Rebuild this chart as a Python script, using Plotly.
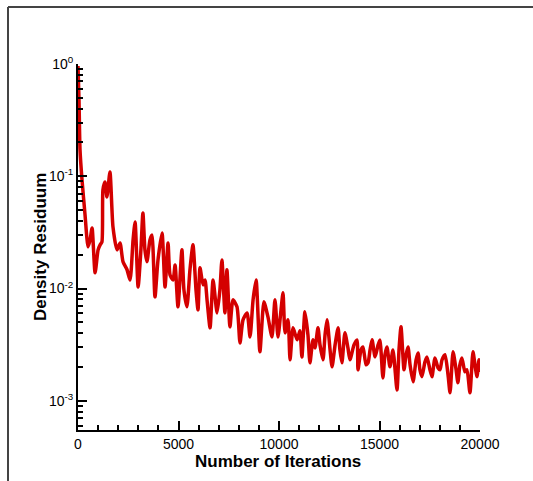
import plotly.graph_objects as go

iterations = [0, 50, 100, 200, 350, 500, 600, 700, 850, 1000, 1100, 1190, 1240, 1340, 1440, 1590, 1740, 1940, 2090, 2240, 2440, 2590, 2740, 2840, 2990, 3130, 3230, 3330, 3430, 3580, 3680, 3830, 3980, 4180, 4330, 4480, 4580, 4730, 4830, 4975, 5170, 5270, 5420, 5570, 5720, 5870, 5970, 6070, 6220, 6320, 6420, 6570, 6720, 6920, 7060, 7160, 7310, 7410, 7560, 7710, 7910, 8060, 8210, 8410, 8560, 8710, 8860, 9050, 9250, 9450, 9650, 9800, 9950, 10100, 10200, 10300, 10450, 10550, 10700, 10900, 11040, 11140, 11290, 11440, 11540, 11690, 11790, 11940, 12040, 12190, 12290, 12390, 12540, 12640, 12790, 12940, 13030, 13130, 13280, 13430, 13530, 13730, 13880, 13930, 14080, 14180, 14330, 14430, 14530, 14630, 14780, 14930, 15020, 15170, 15270, 15370, 15520, 15670, 15870, 15970, 16070, 16220, 16320, 16420, 16520, 16670, 16820, 16920, 17010, 17110, 17260, 17360, 17510, 17610, 17760, 17910, 18010, 18110, 18260, 18410, 18510, 18660, 18810, 18900, 19000, 19100, 19250, 19350, 19500, 19650, 19750, 19850, 19950, 20000]

residuum = [0.96, 0.478, 0.172, 0.0927, 0.0453, 0.0235, 0.0271, 0.0347, 0.0138, 0.0221, 0.0245, 0.0260, 0.0755, 0.0890, 0.0655, 0.109, 0.0354, 0.0221, 0.0255, 0.0173, 0.0147, 0.0119, 0.0271, 0.0392, 0.0103, 0.0221, 0.0472, 0.0221, 0.0173, 0.0271, 0.0300, 0.00843, 0.0180, 0.0313, 0.0103, 0.0255, 0.0132, 0.0119, 0.0162, 0.00687, 0.0221, 0.00973, 0.00687, 0.0147, 0.0245, 0.00973, 0.00646, 0.0153, 0.0108, 0.0119, 0.00793, 0.00447, 0.0119, 0.00607, 0.00973, 0.0180, 0.00607, 0.0147, 0.00456, 0.00793, 0.00687, 0.00328, 0.00526, 0.00607, 0.00371, 0.00793, 0.0119, 0.00273, 0.00761, 0.00559, 0.00371, 0.00793, 0.00371, 0.00646, 0.00915, 0.00403, 0.00526, 0.00232, 0.00447, 0.00349, 0.00420, 0.00246, 0.00620, 0.00387, 0.00218, 0.00349, 0.00296, 0.00447, 0.00315, 0.00232, 0.00387, 0.00526, 0.00284, 0.00201, 0.00315, 0.00447, 0.00284, 0.00218, 0.00403, 0.00296, 0.00232, 0.00315, 0.00349, 0.00189, 0.00284, 0.00302, 0.00209, 0.00218, 0.00284, 0.00349, 0.00246, 0.00315, 0.00349, 0.00160, 0.00257, 0.00302, 0.00201, 0.00284, 0.00125, 0.00284, 0.00456, 0.00189, 0.00257, 0.00302, 0.00209, 0.00148, 0.00232, 0.00267, 0.00189, 0.00164, 0.00222, 0.00246, 0.00189, 0.00164, 0.00241, 0.00197, 0.00189, 0.00232, 0.00257, 0.00170, 0.00118, 0.00273, 0.00189, 0.00145, 0.00209, 0.00241, 0.00181, 0.00189, 0.00118, 0.00273, 0.00209, 0.00164, 0.00232, 0.00181]

y_tickvals = [1, 0.1, 0.01, 0.001]
y_ticktext = ["10<sup>0</sup>", "10<sup>-1</sup>", "10<sup>-2</sup>", "10<sup>-3</sup>"]
y_minorvals = [m * d for d in [0.1, 0.01, 0.001] for m in range(2, 10)] + [m * 0.0001 for m in range(6, 10)]
x_tickvals = [0, 5000, 10000, 15000, 20000]
x_ticktext = ["0", "5000", "10000", "15000", "20000"]
x_title = "Number of Iterations"
y_title = "Density Residuum"

W, H = 533, 481
L, R, T, B = 78, 53, 64, 51
pw, ph = W - L - R, H - T - B

fig = go.Figure()
fig.add_trace(go.Scatter(x=iterations, y=residuum, mode="lines",
                         line=dict(color="#d40000", width=3.5, shape="spline", smoothing=0.6),
                         showlegend=False))

fig.update_layout(
    width=W, height=H,
    margin=dict(l=L, r=R, t=T, b=B),
    paper_bgcolor="white", plot_bgcolor="white",
    font=dict(family="Liberation Sans, Arial", size=13, color="black"),
)
fig.update_xaxes(
    range=[0, 20000], showgrid=False, zeroline=False,
    showline=True, linecolor="black", linewidth=2, mirror=False,
    tickmode="array", tickvals=x_tickvals, ticktext=x_ticktext,
    ticks="inside", ticklen=9, tickwidth=2, tickcolor="black",
    minor=dict(ticks="inside", dtick=1000, ticklen=5, tickwidth=1.5, tickcolor="black", showgrid=False),
    tickfont=dict(size=14),
)
fig.update_yaxes(
    type="log", range=[-3.26, 0], showgrid=False, zeroline=False,
    showline=True, linecolor="black", linewidth=2, mirror=False,
    tickmode="array", tickvals=y_tickvals, ticktext=y_ticktext,
    ticks="inside", ticklen=9, tickwidth=2, tickcolor="black",
    minor=dict(ticks="inside", tickvals=y_minorvals, ticklen=5, tickwidth=1.5, tickcolor="black", showgrid=False),
    tickfont=dict(size=14),
)

fig.add_annotation(text="<b>" + x_title + "</b>", xref="paper", yref="paper",
                   x=(278 - L) / pw, y=(H - B - 461) / ph, xanchor="center", yanchor="middle",
                   showarrow=False, font=dict(size=17))
fig.add_annotation(text="<b>" + y_title + "</b>", xref="paper", yref="paper",
                   x=(40 - L) / pw, y=(H - B - 247) / ph, xanchor="center", yanchor="middle",
                   textangle=-90, showarrow=False, font=dict(size=17))

fx = (8 - L) / pw
fy = (H - B - 7) / ph
fig.add_shape(type="line", xref="paper", yref="paper", x0=fx, y0=-0.3, x1=fx, y1=fy,
              line=dict(color="#444444", width=2))
fig.add_shape(type="line", xref="paper", yref="paper", x0=fx, y0=fy, x1=1.3, y1=fy,
              line=dict(color="#444444", width=2))

fig.write_html("out.html")
